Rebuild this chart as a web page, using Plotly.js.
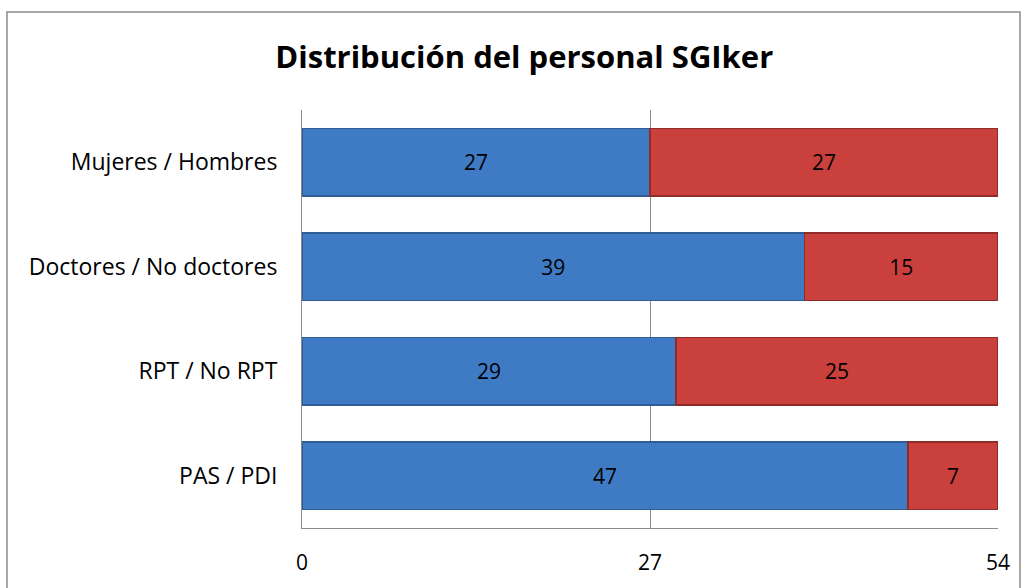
<!DOCTYPE html>
<html><head><meta charset="utf-8">
<script src="https://cdn.plot.ly/plotly-3.0.1.min.js"></script>
<style>body{margin:0;background:#fff}#chart{width:1028px;height:588px}</style>
</head><body><div id="chart"></div>
<script>
const categories = ["Mujeres / Hombres", "Doctores / No doctores", "RPT / No RPT", "PAS / PDI"];
const firstGroup = [27, 39, 29, 47];
const secondGroup = [27, 15, 25, 7];
const tickValues = [0, 27, 54];

const FONT = "'Open Sans', Lato, sans-serif";
const L = 302, R = 30, T = 110, B = 60, W = 1028, H = 588;
const pw = W - L - R, ph = H - T - B;

const traces = [
  {type: 'bar', orientation: 'h', y: categories, x: firstGroup, text: firstGroup.map(String),
   textposition: 'inside', insidetextanchor: 'middle', textfont: {color: '#000', size: 21, family: FONT},
   marker: {color: '#3f7ac4', line: {color: '#2f5d96', width: 1.5}}, width: 0.65, hoverinfo: 'x+y'},
  {type: 'bar', orientation: 'h', y: categories, x: secondGroup, text: secondGroup.map(String),
   textposition: 'inside', insidetextanchor: 'middle', textfont: {color: '#000', size: 21, family: FONT},
   marker: {color: '#c9403c', line: {color: '#8f2b28', width: 1.5}}, width: 0.65, hoverinfo: 'x+y'}
];

const layout = {
  width: W, height: H, barmode: 'stack', showlegend: false,
  margin: {l: L, r: R, t: T, b: B, pad: 0},
  paper_bgcolor: '#fff', plot_bgcolor: '#fff',
  font: {family: FONT, color: '#000'},
  title: {text: '<b>Distribución del personal SGIker</b>', font: {size: 31, family: FONT, color: '#000'},
          x: 0.51, xanchor: 'center', y: 0.903, yanchor: 'middle'},
  xaxis: {range: [0, 54], tickvals: tickValues, ticktext: tickValues.map(String), showgrid: true,
          gridcolor: '#8a8a8a', gridwidth: 1, zeroline: false, showline: true, linecolor: '#8a8a8a',
          linewidth: 1, ticks: '', tickfont: {size: 21, family: FONT}, ticklabelstandoff: 16, mirror: false},
  yaxis: {categoryorder: 'array', categoryarray: categories.slice().reverse(), showline: true,
          linecolor: '#8a8a8a', linewidth: 1, ticks: '', showgrid: false, tickfont: {size: 23, family: FONT},
          ticklabelstandoff: 19},
  shapes: [{type: 'rect', xref: 'paper', yref: 'paper',
            x0: (7 - L) / pw, x1: (1020 - L) / pw, y0: (H - 12 - B) / ph, y1: (H - 590 - B) / ph,
            line: {color: '#8a8a8a', width: 1.5}, fillcolor: 'rgba(0,0,0,0)', layer: 'below'}]
};
Plotly.newPlot('chart', traces, layout, {displayModeBar: false, staticPlot: true});
</script></body></html>
